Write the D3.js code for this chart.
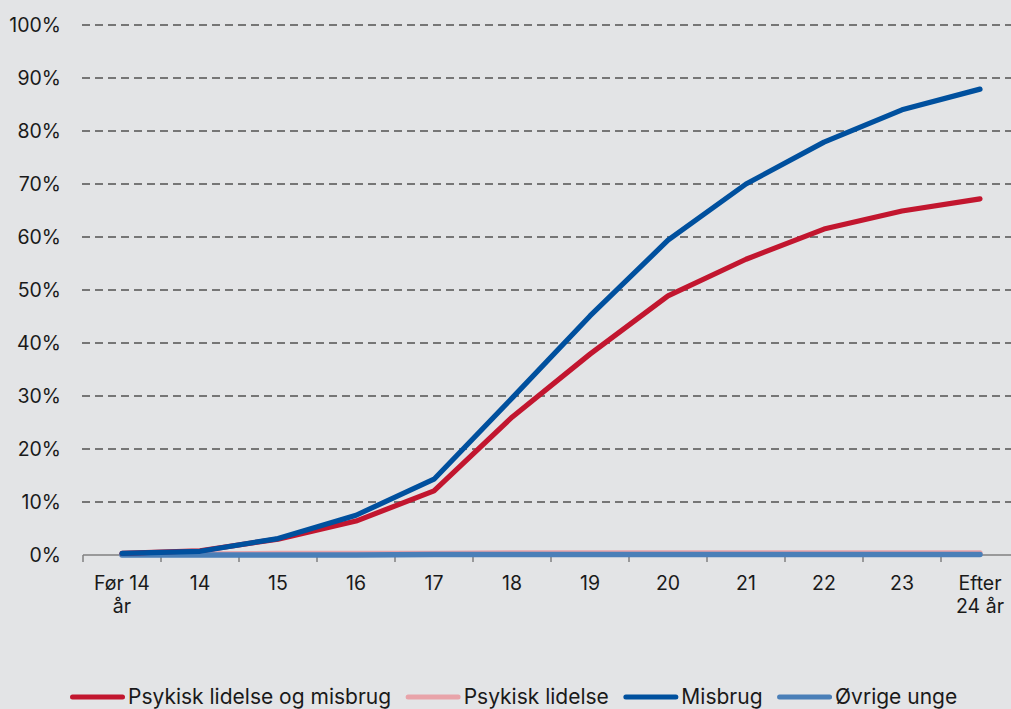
<!DOCTYPE html>
<html><head><meta charset="utf-8">
<script src="https://cdn.jsdelivr.net/npm/d3@7"></script>
<style>
body{margin:0;background:#e3e4e6;}
svg{display:block;font-family:Inter,"Noto Sans",sans-serif;}
</style></head><body>
<svg id="c" width="1011" height="709"></svg>
<script>
const categories = ["Før 14|år","14","15","16","17","18","19","20","21","22","23","Efter|24 år"];
const seriesNames = ["Psykisk lidelse og misbrug","Psykisk lidelse","Misbrug","Øvrige unge"];
const seriesColors = ["#c2162f","#e8a3a9","#00509e","#4a7fb8"];
const psykMisbrug = [0.3,0.8,3.0,6.4,12.1,26.0,37.9,48.9,55.8,61.5,64.9,67.2];
const psyk = [0.2,0.2,0.3,0.3,0.3,0.4,0.4,0.4,0.4,0.4,0.4,0.4];
const misbrug = [0.3,0.7,3.1,7.5,14.3,29.6,45.1,59.4,70.0,77.9,84.0,87.9];
const oevrige = [0.0,0.0,0.0,0.0,0.1,0.1,0.1,0.1,0.1,0.1,0.1,0.1];
const yTicks = [0,10,20,30,40,50,60,70,80,90,100];

const svg = d3.select("#c");
const x = d3.scaleBand().domain(categories).range([83, 83+78*12]);
const y = d3.scaleLinear().domain([0,100]).range([555,25]);

// gridlines
svg.append("g").selectAll("line").data(yTicks.filter(d=>d>0)).join("line")
  .attr("x1",82).attr("x2",1011).attr("y1",d=>y(d)).attr("y2",d=>y(d))
  .attr("stroke","#767676").attr("stroke-width",2).attr("stroke-dasharray","8,5");

// y labels
svg.append("g").selectAll("text").data(yTicks).join("text")
  .attr("x",61).attr("y",d=>y(d)).attr("dy","0.35em").attr("text-anchor","end")
  .attr("font-size",19.5).attr("fill","#1a1a1a").text(d=>d+"%");

// x axis
const xa = svg.append("g");
xa.append("line").attr("x1",83).attr("x2",1011).attr("y1",y(0)).attr("y2",y(0))
  .attr("stroke","#808080").attr("stroke-width",1.5);
xa.selectAll("line.t").data(d3.range(13)).join("line").attr("class","t")
  .attr("x1",i=>83+x.bandwidth()*i).attr("x2",i=>83+x.bandwidth()*i)
  .attr("y1",y(0)).attr("y2",y(0)+7).attr("stroke","#808080").attr("stroke-width",1.5);
const xl = xa.selectAll("text").data(categories).join("text")
  .attr("x",d=>x(d)+x.bandwidth()/2).attr("y",590).attr("text-anchor","middle")
  .attr("font-size",19.5).attr("fill","#1a1a1a");
xl.each(function(d){
  const parts=d.split("|");
  parts.forEach((p,i)=>d3.select(this).append("tspan").attr("x",x(d)+x.bandwidth()/2).attr("dy",i?23:0).text(p));
});

// lines
const data = [psykMisbrug, psyk, misbrug, oevrige];
const line = d3.line().x((d,i)=>x(categories[i])+x.bandwidth()/2).y(d=>y(d));
[1,3,0,2].forEach(k=>{
  svg.append("path").datum(data[k]).attr("d",line).attr("fill","none")
    .attr("stroke",seriesColors[k]).attr("stroke-width",k===3?5.5:5.2)
    .attr("stroke-linecap","round").attr("stroke-linejoin","round");
});

// legend
const lg = svg.append("g");
let lx = 72.5;
seriesNames.forEach((n,i)=>{
  const g = lg.append("g").attr("transform",`translate(${lx},697)`);
  g.append("line").attr("x1",0).attr("x2",50).attr("y1",0).attr("y2",0)
    .attr("stroke",seriesColors[i]).attr("stroke-width",5).attr("stroke-linecap","round");
  const t = g.append("text").attr("x",55.5).attr("dy","0.35em").attr("font-size",21).attr("fill","#1a1a1a").text(n);
  lx += 55.5 + t.node().getComputedTextLength() + 17;
});
</script>
</body></html>
